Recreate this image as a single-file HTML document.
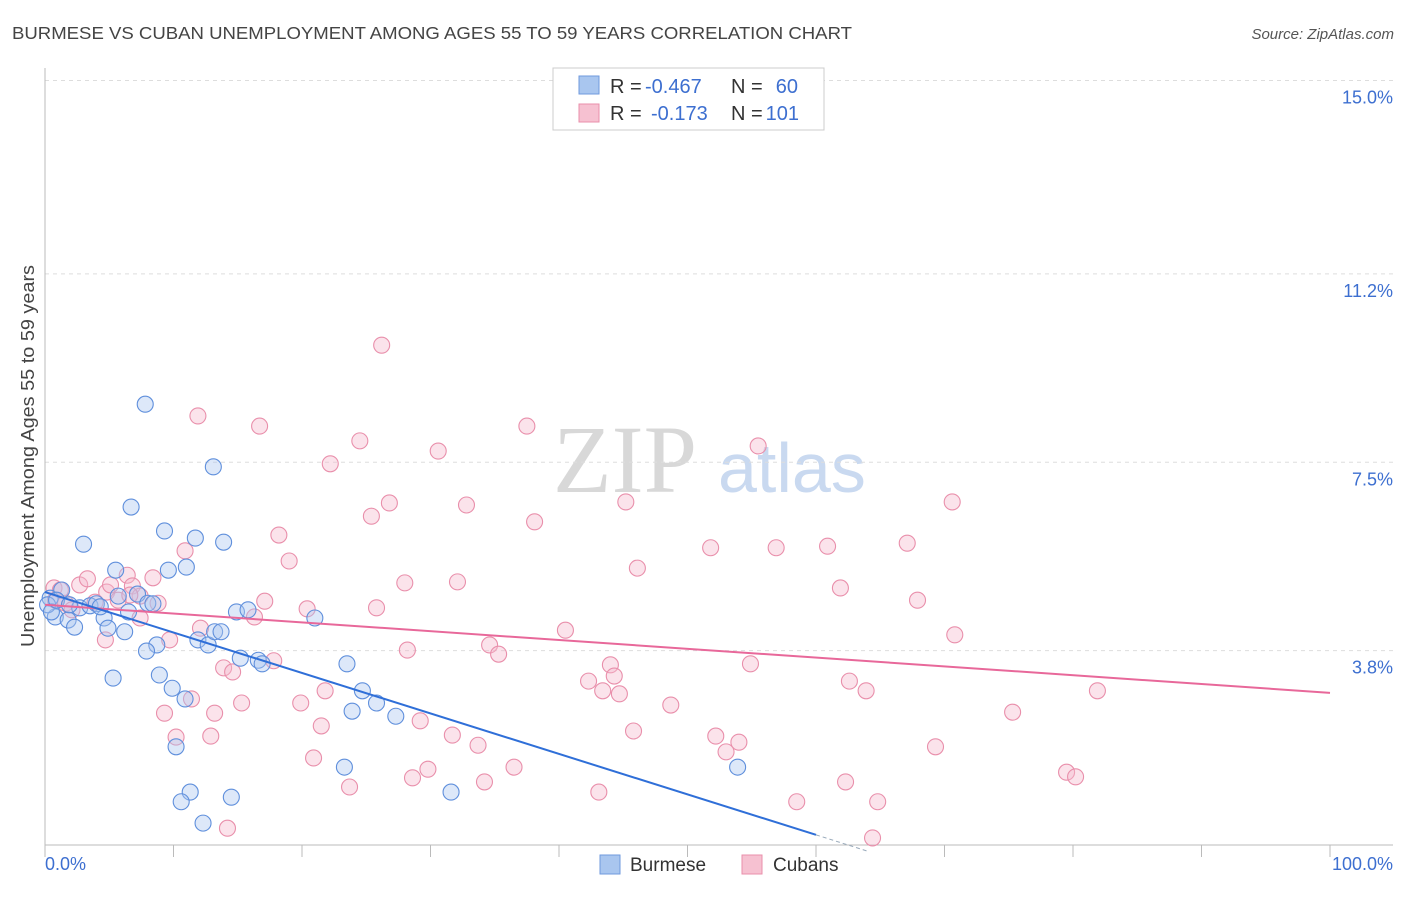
<!DOCTYPE html>
<html><head><meta charset="utf-8"><style>
body{margin:0;background:#fff;font-family:"Liberation Sans",sans-serif;}
svg text{font-family:"Liberation Sans",sans-serif;}
</style></head><body>
<svg id="chart" width="1406" height="892" viewBox="0 0 1406 892" xmlns="http://www.w3.org/2000/svg">
<text x="12" y="39" font-size="17.8" fill="#444" textLength="840" lengthAdjust="spacingAndGlyphs">BURMESE VS CUBAN UNEMPLOYMENT AMONG AGES 55 TO 59 YEARS CORRELATION CHART</text>
<text x="1394" y="39" font-size="15" fill="#555" font-style="italic" text-anchor="end">Source: ZipAtlas.com</text>
<g>
<text x="553" y="492" font-size="96" fill="#d8d8d8" font-family="Liberation Serif, serif" style="font-family:'Liberation Serif',serif">ZIP</text>
<text x="718" y="492" font-size="70" fill="#c9d9f0">atlas</text>
</g>
<g id="grid"></g>
<g id="marks"></g>
<text transform="translate(34,456) rotate(-90)" font-size="18.5" fill="#444" text-anchor="middle" textLength="382" lengthAdjust="spacingAndGlyphs">Unemployment Among Ages 55 to 59 years</text>
<g>
<rect x="553" y="68" width="271" height="62" fill="#fff" stroke="#ccc"/>
<rect x="579" y="76" width="20" height="18" fill="#a9c6ef" stroke="#6f9ade"/>
<rect x="579" y="104" width="20" height="18" fill="#f6c1d1" stroke="#e98fab"/>
<text x="610" y="93" font-size="20" fill="#333">R =</text>
<text x="645" y="93" font-size="20" fill="#3d6fd0">-0.467</text>
<text x="731" y="93" font-size="20" fill="#333">N =</text>
<text x="798" y="93" font-size="20" fill="#3d6fd0" text-anchor="end">60</text>
<text x="610" y="120" font-size="20" fill="#333">R =</text>
<text x="651" y="120" font-size="20" fill="#3d6fd0">-0.173</text>
<text x="731" y="120" font-size="20" fill="#333">N =</text>
<text x="799" y="120" font-size="20" fill="#3d6fd0" text-anchor="end">101</text>
</g>
<g>
<rect x="600" y="855" width="20" height="19" fill="#a9c6ef" stroke="#6f9ade"/>
<text x="630" y="871" font-size="19" fill="#333">Burmese</text>
<rect x="742" y="855" width="20" height="19" fill="#f6c1d1" stroke="#e98fab"/>
<text x="773" y="871" font-size="19" fill="#333">Cubans</text>
</g>
</svg>
<script>
const yTicks=[3.8,7.5,11.2,15.0];
const yTickLabels=["3.8%","7.5%","11.2%","15.0%"];
const xTicks=[0,10,20,30,40,50,60,70,80,90,100];
const burmeseX=[7.8,13.1,6.7,3.0,9.3,11.7,13.9,5.5,9.6,11.0,0.4,0.8,1.3,1.8,2.3,2.7,3.5,4.0,4.6,4.9,5.7,6.2,6.5,7.2,8.0,8.4,0.2,0.5,0.9,14.9,15.8,21.0,11.9,12.7,13.2,13.7,8.7,7.9,5.3,8.9,9.9,10.9,15.2,16.6,16.9,23.5,24.7,25.8,23.9,27.3,10.2,23.3,53.9,11.3,10.6,14.5,31.6,12.3,1.9,4.3];
const burmeseY=[8.64,7.41,6.62,5.89,6.15,6.01,5.93,5.38,5.38,5.44,4.83,4.46,4.99,4.40,4.26,4.64,4.68,4.72,4.44,4.24,4.87,4.17,4.56,4.91,4.73,4.72,4.70,4.56,4.79,4.56,4.60,4.44,4.01,3.91,4.17,4.17,3.91,3.79,3.26,3.32,3.06,2.85,3.65,3.61,3.54,3.54,3.01,2.77,2.61,2.51,1.91,1.51,1.51,1.02,0.83,0.92,1.02,0.41,4.70,4.66];
const cubanX=[26.2,11.9,16.7,37.5,24.5,22.2,30.6,55.5,26.8,25.4,32.8,45.2,70.6,38.1,18.2,19.0,10.9,51.8,56.9,60.9,67.1,46.1,28.0,32.1,61.9,67.9,0.7,1.2,2.7,3.3,4.8,6.4,6.8,8.4,0.8,1.6,2.1,3.9,5.7,7.4,8.8,17.1,20.4,25.8,16.3,7.4,4.7,9.7,12.1,40.5,70.8,28.2,34.6,35.3,13.9,14.6,17.8,44.0,44.3,42.3,43.4,44.7,54.9,62.6,63.9,81.9,11.4,15.3,19.9,21.8,48.7,75.3,9.3,13.2,21.5,29.2,45.8,10.2,12.9,31.7,33.7,52.2,54.0,53.0,69.3,20.9,29.8,36.5,79.5,80.2,28.6,23.7,34.2,43.1,62.3,58.5,64.8,14.2,64.4,5.1,6.6];
const cubanY=[9.80,8.41,8.21,8.21,7.92,7.47,7.72,7.82,6.70,6.44,6.66,6.72,6.72,6.33,6.07,5.56,5.76,5.82,5.82,5.85,5.91,5.42,5.13,5.15,5.03,4.79,5.03,4.99,5.09,5.21,4.95,5.28,5.07,5.23,4.79,4.73,4.60,4.75,4.79,4.87,4.73,4.77,4.62,4.64,4.46,4.44,4.01,4.01,4.24,4.20,4.11,3.81,3.91,3.73,3.46,3.38,3.60,3.52,3.30,3.20,3.01,2.95,3.54,3.20,3.01,3.01,2.85,2.77,2.77,3.01,2.73,2.59,2.57,2.57,2.32,2.42,2.22,2.10,2.12,2.14,1.94,2.12,2.00,1.81,1.91,1.69,1.47,1.51,1.41,1.32,1.30,1.12,1.22,1.02,1.22,0.83,0.83,0.31,0.12,5.09,4.89];
const burmeseTrend=[[0,4.95],[60,0.18]];
const burmeseTrendDash=[[60,0.18],[64,-0.14]];
const cubanTrend=[[0,4.7],[100,2.97]];

const NS="http://www.w3.org/2000/svg";
const X0=45,X1=1330,Y0=844,PXY=50.9;
function sx(v){return X0+v*(X1-X0)/100;}
function sy(v){return Y0-v*PXY;}
function mk(t,a,p){const e=document.createElementNS(NS,t);for(const k in a)e.setAttribute(k,a[k]);p.appendChild(e);return e;}
const grid=document.getElementById('grid'),marks=document.getElementById('marks');
yTicks.forEach((t,i)=>{
  const l=mk('line',{x1:45,x2:1393,y1:sy(t),y2:sy(t),stroke:'#ddd','stroke-dasharray':'4,4'},grid);
  
  
  const tx=mk('text',{x:1393,y:sy(t)+23,'font-size':18,fill:'#3d6fd0','text-anchor':'end'},grid);
  tx.textContent=yTickLabels[i];
  
  
});
const ax=mk('line',{x1:45,x2:1393,y1:845,y2:845,stroke:'#bbb'},grid);


const ay=mk('line',{x1:45,x2:45,y1:68,y2:845,stroke:'#bbb'},grid);


xTicks.forEach(t=>{
  const l=mk('line',{x1:sx(t),x2:sx(t),y1:845,y2:857,stroke:'#bbb'},grid);
  
  
});
const xl0=mk('text',{x:45,y:870,'font-size':18,fill:'#3d6fd0'},grid);xl0.textContent='0.0%';


const xl1=mk('text',{x:1393,y:870,'font-size':18,fill:'#3d6fd0','text-anchor':'end'},grid);xl1.textContent='100.0%';


function pts(xs,ys,fill,stroke,name){
  xs.forEach((x,i)=>{
    const c=mk('circle',{cx:sx(x),cy:sy(ys[i]),r:8,fill:fill,'fill-opacity':0.4,stroke:stroke,'stroke-width':1.1},marks);
    
    
  });
}
pts(cubanX,cubanY,'#f6b8cc','#e98fab','cuban-point');
pts(burmeseX,burmeseY,'#a9c6ef','#5f8fdc','burmese-point');
function line(d,color,name,dash){
  const l=mk('line',{x1:sx(d[0][0]),y1:sy(d[0][1]),x2:sx(d[1][0]),y2:sy(d[1][1]),stroke:color,'stroke-width':dash?1:2},marks);
  if(dash)l.setAttribute('stroke-dasharray','4,3');
  
  
}
line(cubanTrend,'#e8689a','cuban-trend-line');
line(burmeseTrend,'#2f6fd8','burmese-trend-line');
line(burmeseTrendDash,'#9ab','burmese-trend-extension',true);
</script>
</body></html>
